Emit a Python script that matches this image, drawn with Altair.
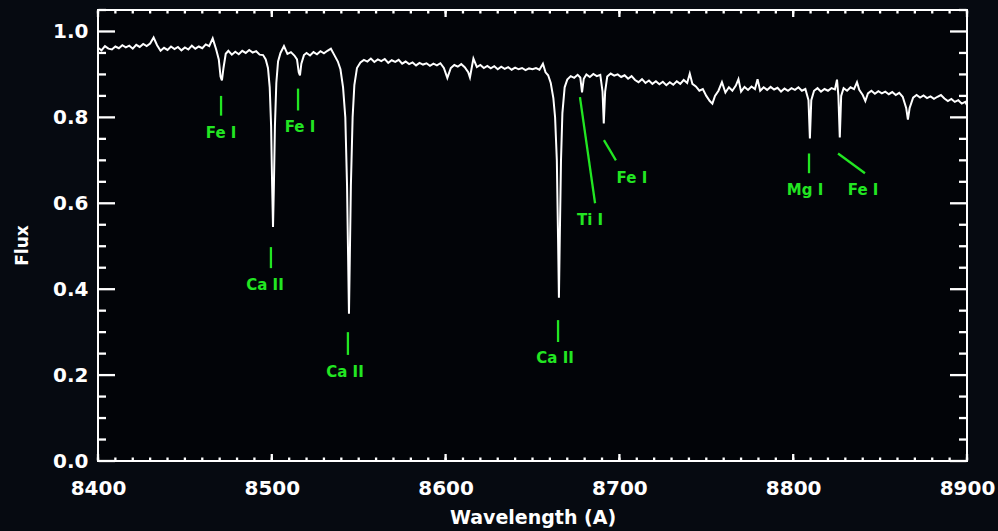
import altair as alt
import pandas as pd

# ---- spectrum ----
wavelength = [
    8400, 8402, 8404, 8406, 8408, 8410, 8412, 8414, 8416, 8418, 8420, 8422, 8424, 8426, 8428,
    8430, 8432, 8434, 8436, 8438, 8440, 8442, 8444, 8446, 8448, 8450, 8452, 8454, 8456, 8458,
    8460, 8462, 8464, 8466, 8468, 8469.5, 8470.5, 8471.3, 8472.2, 8473.5, 8475, 8477, 8479,
    8481, 8483, 8485, 8487, 8489, 8491, 8493, 8495, 8496.5, 8497.8, 8498.8, 8499.6, 8500.2,
    8500.7, 8501.2, 8501.8, 8502.6, 8503.6, 8505, 8507, 8509, 8511, 8513, 8514.5, 8515.5,
    8516.2, 8517, 8518.5, 8520, 8522, 8524, 8526, 8528, 8530, 8532, 8534, 8536, 8538, 8539.5,
    8541, 8542.3, 8543.3, 8544.0, 8544.4, 8544.8, 8545.5, 8546.5, 8547.5, 8549, 8551, 8553,
    8555, 8557, 8559, 8561, 8563, 8565, 8567, 8569, 8571, 8573, 8575, 8577, 8579, 8581, 8583,
    8585, 8587, 8589, 8591, 8593, 8595, 8597, 8599, 8601, 8603, 8605, 8607, 8609, 8611, 8613,
    8614, 8615, 8616, 8618, 8620, 8622, 8624, 8626, 8628, 8630, 8632, 8634, 8636, 8638, 8640,
    8642, 8644, 8646, 8648, 8650, 8652, 8654, 8656, 8657.5, 8659, 8660.5, 8662, 8663, 8664,
    8664.7, 8665.2, 8665.7, 8666.4, 8667.2, 8668.5, 8670, 8672, 8674, 8676, 8677.5, 8678.5,
    8679.5, 8681, 8683, 8685, 8687, 8689, 8690.3, 8691, 8691.8, 8693, 8695, 8697, 8699, 8701,
    8703, 8705, 8707, 8709, 8711, 8713, 8715, 8717, 8719, 8721, 8723, 8725, 8727, 8729, 8731,
    8733, 8735, 8737, 8739, 8740.5, 8742, 8744, 8746, 8748, 8750, 8752, 8753.5, 8755, 8757,
    8759, 8761, 8763, 8765, 8767, 8768.5, 8770, 8772, 8774, 8776, 8778, 8779.5, 8781, 8783,
    8785, 8787, 8789, 8791, 8793, 8795, 8797, 8799, 8801, 8803, 8805, 8807, 8808.8, 8809.6,
    8810.4, 8812, 8814, 8816, 8818, 8820, 8822, 8824, 8825.2, 8826, 8826.8, 8827.6, 8829, 8831,
    8833, 8835, 8836.7, 8838, 8840, 8841.5, 8843, 8845, 8847, 8849, 8851, 8853, 8855, 8857,
    8859, 8861, 8863, 8865, 8866, 8867, 8869, 8871, 8873, 8875, 8877, 8879, 8881, 8883, 8885,
    8887, 8889, 8891, 8893, 8895, 8897, 8899, 8900,
]
flux = [
    0.962, 0.956, 0.966, 0.960, 0.958, 0.965, 0.961, 0.968, 0.963, 0.967, 0.960, 0.969, 0.964, 0.971, 0.966,
    0.972, 0.986, 0.968, 0.955, 0.962, 0.957, 0.965, 0.959, 0.964, 0.956, 0.963, 0.958, 0.967, 0.960, 0.965,
    0.961, 0.970, 0.966, 0.984, 0.958, 0.935, 0.895, 0.886, 0.915, 0.948, 0.955, 0.946, 0.953,
    0.947, 0.955, 0.950, 0.957, 0.951, 0.954, 0.946, 0.945, 0.935, 0.915, 0.870, 0.780, 0.640,
    0.545, 0.640, 0.780, 0.880, 0.930, 0.950, 0.966, 0.948, 0.952, 0.944, 0.935, 0.905,
    0.898, 0.925, 0.945, 0.950, 0.944, 0.952, 0.947, 0.954, 0.949, 0.955, 0.960, 0.945, 0.930, 0.912,
    0.870, 0.800, 0.640, 0.450, 0.343, 0.450, 0.640, 0.800, 0.875, 0.915, 0.928, 0.934,
    0.930, 0.937, 0.929, 0.935, 0.931, 0.936, 0.927, 0.933, 0.929, 0.934, 0.925, 0.930, 0.924, 0.928, 0.921,
    0.927, 0.923, 0.926, 0.920, 0.925, 0.921, 0.926, 0.915, 0.892, 0.915, 0.922, 0.918, 0.924, 0.917, 0.905,
    0.893, 0.915, 0.937, 0.917, 0.922, 0.915, 0.920, 0.914, 0.919, 0.912, 0.918, 0.913, 0.917, 0.911, 0.916,
    0.912, 0.915, 0.910, 0.914, 0.912, 0.915, 0.911, 0.925, 0.905, 0.898, 0.880, 0.845, 0.800, 0.700,
    0.520, 0.380, 0.520, 0.700, 0.810, 0.870, 0.888, 0.896, 0.892, 0.899, 0.893, 0.858,
    0.890, 0.900, 0.894, 0.901, 0.896, 0.899, 0.860, 0.786, 0.860, 0.895, 0.902, 0.897, 0.900, 0.894,
    0.898, 0.890, 0.896, 0.887, 0.882, 0.889, 0.880, 0.886, 0.878, 0.884, 0.877, 0.883, 0.875, 0.882, 0.876,
    0.884, 0.878, 0.887, 0.880, 0.902, 0.878, 0.872, 0.862, 0.866, 0.850, 0.838, 0.832, 0.850, 0.862,
    0.882, 0.858, 0.870, 0.862, 0.874, 0.889, 0.860, 0.871, 0.864, 0.872, 0.866, 0.889, 0.862, 0.870,
    0.864, 0.871, 0.865, 0.869, 0.860, 0.867, 0.862, 0.868, 0.864, 0.870, 0.862, 0.866, 0.840, 0.751,
    0.840, 0.862, 0.868, 0.860, 0.866, 0.862, 0.868, 0.865, 0.888, 0.850, 0.753, 0.850, 0.868, 0.862,
    0.870, 0.866, 0.882, 0.864, 0.852, 0.838, 0.856, 0.862, 0.855, 0.861, 0.856, 0.860, 0.854, 0.859,
    0.852, 0.857, 0.848, 0.822, 0.795, 0.822, 0.846, 0.852, 0.846, 0.851, 0.845, 0.849, 0.843, 0.848, 0.852,
    0.844, 0.838, 0.843, 0.836, 0.840, 0.832, 0.836, 0.828,
]

# ---- line identifications ----
line_names = ["Fe I", "Ca II", "Fe I", "Ca II", "Ca II", "Ti I", "Fe I", "Mg I", "Fe I"]
label_w = [8470.8, 8496.1, 8516.2, 8542.1, 8663.0, 8683.1, 8707.2, 8806.8, 8840.2]
label_f = [0.763, 0.409, 0.777, 0.207, 0.240, 0.560, 0.660, 0.630, 0.630]
marker_w1 = [8470.8, 8499.5, 8515.1, 8543.8, 8664.7, 8677.3, 8691.1, 8809.1, 8825.8]
marker_w2 = [8470.8, 8499.5, 8515.1, 8543.8, 8664.7, 8686.0, 8698.0, 8809.1, 8841.3]
marker_f1 = [0.850, 0.498, 0.867, 0.300, 0.328, 0.847, 0.747, 0.716, 0.716]
marker_f2 = [0.804, 0.449, 0.816, 0.247, 0.277, 0.600, 0.700, 0.670, 0.670]

# ---- axis ticks ----
x_major = [8400, 8500, 8600, 8700, 8800, 8900]
x_minor = list(range(8400, 8901, 10))
y_major = [0.0, 0.2, 0.4, 0.6, 0.8, 1.0]
y_minor = [0.05, 0.10, 0.15, 0.25, 0.30, 0.35, 0.45, 0.50, 0.55, 0.65, 0.70, 0.75,
           0.85, 0.90, 0.95, 1.05]

W, H = 869, 451
X0, X1 = 8400, 8900
Y0, Y1 = 0.0, 1.05
GREEN = "#22e622"
FONT = "DejaVu Sans"

# inward tick marks (IDL style, on all four sides), lengths given in pixels
PX = (X1 - X0) / W
PY = (Y1 - Y0) / H
seg_rows = []
for v in y_major:
    seg_rows += [("tick", X0 + 0.5 * PX, X0 + 17 * PX, v, v),
                 ("tick", X1 - 17 * PX, X1 - 0.5 * PX, v, v)]
for v in y_minor:
    seg_rows += [("tick", X0 + 0.5 * PX, X0 + 8 * PX, v, v),
                 ("tick", X1 - 8 * PX, X1 - 0.5 * PX, v, v)]
for v in x_major:
    seg_rows += [("tick", v, v, Y0 + 0.5 * PY, Y0 + 7 * PY),
                 ("tick", v, v, Y1 - 7 * PY, Y1 - 0.5 * PY)]
for v in x_minor:
    seg_rows += [("tick", v, v, Y0 + 0.5 * PY, Y0 + 3.5 * PY),
                 ("tick", v, v, Y1 - 3.5 * PY, Y1 - 0.5 * PY)]
for a, b, c, d in zip(marker_w1, marker_w2, marker_f1, marker_f2):
    seg_rows.append(("line", a, b, c, d))
seg_df = pd.DataFrame(seg_rows, columns=["kind", "w1", "w2", "f1", "f2"])

spec_df = pd.DataFrame({"w": wavelength, "f": flux})
lab_df = pd.DataFrame({"name": line_names, "w": label_w, "f": label_f})

xscale = alt.Scale(domain=[X0, X1], nice=False, zero=False)
yscale = alt.Scale(domain=[Y0, Y1], nice=False, zero=False)

x_axis = alt.Axis(
    title="Wavelength (A)", values=x_major, format="d", ticks=False, tickSize=0,
    domain=False, grid=False, labelFlush=False, labelOverlap=False,
    labelPadding=17, labelFontSize=20, labelFont=FONT, labelFontWeight="bold",
    labelColor="white", titleFontSize=19, titleFont=FONT, titleFontWeight="bold",
    titleColor="white", titleY=56, titleBaseline="middle")
y_axis = alt.Axis(
    title="Flux", values=y_major, format=".1f", ticks=False, tickSize=0,
    domain=False, grid=False, labelOverlap=False, labelPadding=10,
    labelFontSize=20, labelFont=FONT, labelFontWeight="bold", labelColor="white",
    titleFontSize=17, titleFont=FONT, titleFontWeight="bold", titleColor="white",
    titleAngle=270, titleX=-76, titleY=235, titleAlign="center",
    titleBaseline="middle")


def X(field):
    return alt.X(field, scale=xscale, axis=x_axis, title="Wavelength (A)")


def Y(field):
    return alt.Y(field, scale=yscale, axis=y_axis, title="Flux")


spectrum = alt.Chart(spec_df).mark_line(color="white", strokeWidth=2).encode(
    x=X("w:Q"), y=Y("f:Q"))

segments = alt.Chart(seg_df).mark_rule(strokeWidth=2.3).encode(
    x=X("w1:Q"), x2="w2:Q", y=Y("f1:Q"), y2="f2:Q",
    color=alt.Color("kind:N", scale=alt.Scale(domain=["tick", "line"],
                                               range=["#ffffff", GREEN]), legend=None))

labels = alt.Chart(lab_df).mark_text(
    color=GREEN, font=FONT, fontSize=15, fontWeight="bold", align="center", baseline="middle"
).encode(x=X("w:Q"), y=Y("f:Q"), text="name:N")

chart = alt.layer(spectrum, segments, labels).properties(
    width=W, height=H,
    autosize=alt.AutoSizeParams(type="none"),
    padding={"left": 98, "top": 10, "right": 31, "bottom": 70},
    background="#060a11",
).configure_view(stroke="white", strokeWidth=2, fill="#020408")

chart.save("out.html", embed_options={"renderer": "svg", "actions": False})
